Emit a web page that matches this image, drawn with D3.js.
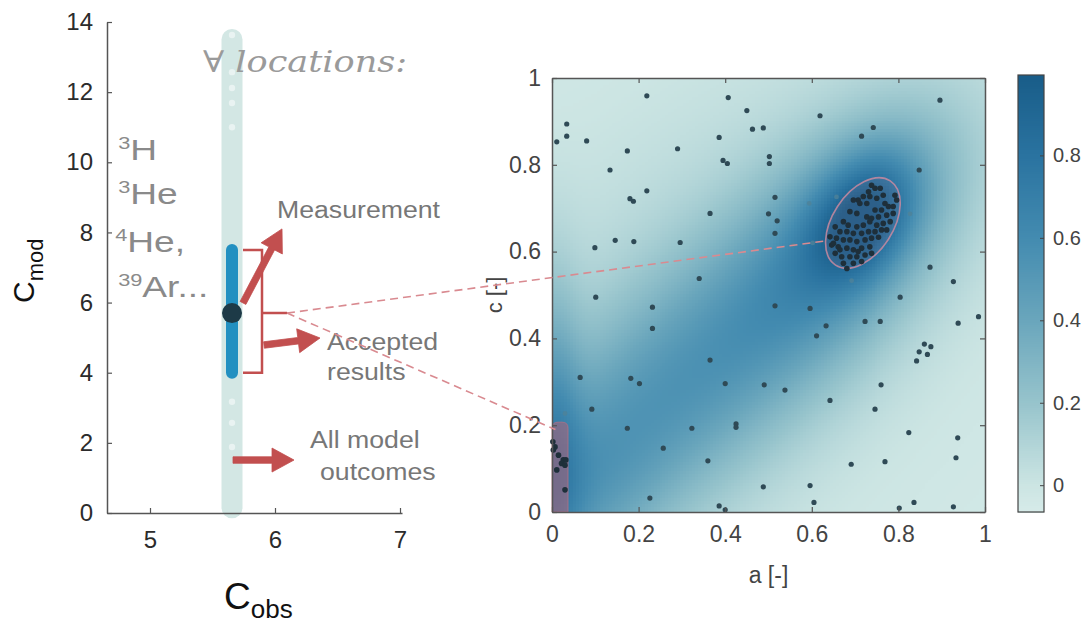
<!DOCTYPE html>
<html>
<head>
<meta charset="utf-8">
<script src="https://cdn.jsdelivr.net/npm/d3@7"></script>
<style>
  body { margin: 0; background: #fff; }
  svg { display: block; }
</style>
</head>
<body>
<svg id="chart" width="1087" height="627"></svg>
<script>
// ---------- left panel data ----------
const cmodTicks = [0, 2, 4, 6, 8, 10, 12, 14];
const cobsTicks = [5, 6, 7];
const measuredCobs = 5.656;
const measuredCmod = 5.7;
const modelRange = [0.15, 13.5];        // spread of all model outcomes
const acceptedRange = [4.0, 7.5];       // outcomes accepted around the measurement
const outcomeHighlights = [13.63, 12.57, 12.12, 11.69, 11.0, 3.17, 2.57, 1.88];
const isotopeSup = ["3", "3", "4", "39"];
const isotopeName = ["H", "He", "He,", "Ar..."];
const isotopeCmod = [10.07, 8.81, 7.44, 6.16];

// ---------- right panel data ----------
const abTicks = [0, 0.2, 0.4, 0.6, 0.8, 1];
const colorTicks = [0, 0.2, 0.4, 0.6, 0.8];
const colorDomain = [-0.065, 0.995];
const cmapStops = [-0.065, 0, 0.2, 0.4, 0.6, 0.8, 1.0];
const cmapColors = ["#d6ebe9", "#cce5e3", "#97c4cc", "#6aa6bc", "#438bb0", "#2a73a0", "#185c88"];

// density field described by a few elongated kernels
const blobA     = [0.72, 0.68, 0.25, 0.00, 0.00, 0.35];
const blobC     = [0.68, 0.64, 0.25, 0.20, 0.00, 0.45];
const blobMajor = [0.11, 0.23, 0.45, 0.25, 0.15, 0.60];
const blobMinor = [0.075, 0.13, 0.16, 0.045, 0.12, 0.35];
const blobAngle = [60, 52, 42, 90, 45, 45];
const blobPeak  = [0.52, 0.37, 0.45, 0.32, 0.15, 0.12];
const densityBase = -0.04;

// sampled parameter sets (a, c)
const samples = [
  [0.034,0.894],[0.034,0.866],[0.011,0.853],[0.080,0.855],[0.219,0.959],[0.174,0.832],[0.134,0.788],
  [0.180,0.722],[0.188,0.716],[0.219,0.740],[0.290,0.837],[0.407,0.955],[0.450,0.925],[0.463,0.882],
  [0.488,0.885],[0.386,0.863],[0.395,0.810],[0.405,0.803],[0.365,0.688],[0.500,0.687],[0.502,0.819],
  [0.502,0.803],[0.099,0.609],[0.146,0.626],[0.189,0.623],[0.296,0.621],[0.340,0.538],[0.101,0.495],
  [0.619,0.913],[0.742,0.886],[0.715,0.866],[0.896,0.949],[0.848,0.788],[0.515,0.725],[0.520,0.671],
  [0.515,0.642],[0.873,0.564],[0.927,0.531],[0.804,0.495],
  [0.232,0.472],[0.232,0.423],[0.365,0.350],[0.065,0.310],[0.182,0.308],[0.202,0.296],[0.400,0.296],
  [0.490,0.293],[0.092,0.237],[0.174,0.193],[0.323,0.193],[0.425,0.203],[0.425,0.195],[0.257,0.147],
  [0.360,0.118],[0.488,0.058],[0.226,0.032],[0.386,0.014],[0.400,0.005],
  [0.515,0.475],[0.596,0.469],[0.633,0.429],[0.611,0.406],[0.723,0.439],[0.758,0.439],[0.938,0.435],
  [0.985,0.450],[0.860,0.387],[0.875,0.381],[0.848,0.369],[0.867,0.363],[0.842,0.348],[0.538,0.281],
  [0.642,0.257],[0.760,0.293],[0.746,0.237],[0.824,0.183],[0.937,0.171],[0.691,0.110],[0.769,0.116],
  [0.933,0.125],[0.596,0.061],[0.605,0.022],[0.836,0.022],[0.927,0.012],[0.802,0.009]
];
const faintSamples = [
  [0.594,0.711],[0.657,0.726],[0.827,0.687],[0.557,0.615],[0.602,0.620],[0.692,0.533],[0.030,0.227]
];
const acceptedMain = [
  [0.738,0.753],[0.746,0.746],[0.731,0.738],[0.758,0.746],[0.719,0.727],[0.734,0.727],[0.707,0.719],
  [0.696,0.719],[0.792,0.730],[0.796,0.719],[0.765,0.730],[0.750,0.723],[0.727,0.711],[0.711,0.711],
  [0.769,0.711],[0.777,0.704],[0.788,0.704],[0.761,0.696],[0.746,0.696],[0.688,0.692],[0.704,0.688],
  [0.727,0.680],[0.738,0.677],[0.754,0.680],[0.773,0.684],[0.788,0.688],[0.673,0.669],[0.684,0.661],
  [0.704,0.657],[0.719,0.661],[0.734,0.669],[0.750,0.661],[0.765,0.665],[0.781,0.669],[0.654,0.657],
  [0.665,0.646],[0.681,0.646],[0.696,0.642],[0.715,0.642],[0.731,0.646],[0.746,0.646],[0.761,0.650],
  [0.642,0.634],[0.657,0.631],[0.673,0.627],[0.688,0.627],[0.704,0.623],[0.723,0.627],[0.738,0.631],
  [0.754,0.633],[0.646,0.615],[0.661,0.611],[0.681,0.608],[0.696,0.604],[0.715,0.608],[0.734,0.611],
  [0.654,0.596],[0.669,0.588],[0.688,0.588],[0.704,0.588],[0.723,0.592],[0.738,0.596],[0.673,0.573],
  [0.696,0.573],[0.715,0.577],[0.681,0.561],[0.650,0.619],[0.773,0.650],[0.665,0.604],[0.707,0.600]
];
const acceptedCorner = [
  [0.002,0.162],[0.007,0.150],[0.003,0.143],[0.015,0.131],[0.026,0.120],[0.032,0.120],
  [0.022,0.112],[0.030,0.108],[0.011,0.097],[0.030,0.051]
];
const mainRegion = { a: 0.718, c: 0.666, major: 0.116, minor: 0.07, angle: 57 };
const cornerRegion = { a0: 0, a1: 0.037, c0: 0, c1: 0.207 };

// ---------- setup ----------
const svg = d3.select("#chart");
const RED = "#c24f4f";
const SANS = "'Liberation Sans', Arial, sans-serif";

// left panel scales
const xL = d3.scaleLinear().domain([4.656, 7.016]).range([107, 402]);
const yL = d3.scaleLinear().domain([0, 14]).range([513, 22]);
// right panel scales
const xR = d3.scaleLinear().domain([0, 1]).range([552, 985]);
const yR = d3.scaleLinear().domain([0, 1]).range([512, 78]);
const yCb = d3.scaleLinear().domain(colorDomain).range([512, 75]);
const cbX0 = 1018, cbX1 = 1044;

const color = d3.scaleLinear().domain(cmapStops).range(cmapColors)
  .interpolate(d3.interpolateRgb).clamp(true);

function styleAxis(g, fs, col) {
  g.select(".domain").attr("stroke", "#555").attr("stroke-width", 1.5);
  g.selectAll(".tick line").attr("stroke", "#555").attr("stroke-width", 1.2);
  g.selectAll(".tick text").attr("font-family", SANS).attr("font-size", fs).attr("fill", col);
}

// ---------- left panel ----------
const left = svg.append("g");

// all model outcomes: light column
left.append("line")
  .attr("x1", xL(measuredCobs)).attr("x2", xL(measuredCobs))
  .attr("y1", yL(modelRange[0])).attr("y2", yL(modelRange[1]))
  .attr("stroke", "#d3e7e4").attr("stroke-width", 21).attr("stroke-linecap", "round");
left.selectAll("circle.hl").data(outcomeHighlights).join("circle")
  .attr("cx", xL(measuredCobs)).attr("cy", d => yL(d)).attr("r", 3.2)
  .attr("fill", "#fff").attr("opacity", 0.5);

const axL = left.append("g").attr("transform", `translate(${xL.range()[0]},0)`)
  .call(d3.axisLeft(yL).tickValues(cmodTicks).tickSizeInner(-5).tickSizeOuter(0).tickPadding(14));
styleAxis(axL, 24, "#2b2b2b");
const axB = left.append("g").attr("transform", `translate(0,${yL(0)})`)
  .call(d3.axisBottom(xL).tickValues(cobsTicks).tickFormat(d3.format("d")).tickSizeInner(-5).tickSizeOuter(0).tickPadding(18));
styleAxis(axB, 24, "#2b2b2b");

// axis titles
const tMod = left.append("text")
  .attr("transform", `translate(34,303) rotate(-90)`)
  .attr("font-family", SANS).attr("fill", "#111");
tMod.append("tspan").attr("font-size", 30).text("C");
tMod.append("tspan").attr("font-size", 22).attr("dy", 9).text("mod");

const tObs = left.append("text").attr("x", 224).attr("y", 609)
  .attr("font-family", SANS).attr("fill", "#111");
tObs.append("tspan").attr("font-size", 37).text("C");
tObs.append("tspan").attr("font-size", 26).attr("dy", 9).text("obs");

// isotope list
isotopeName.forEach((nm, i) => {
  const t = left.append("text")
    .attr("transform", `translate(${xL(4.745) - (i === 2 ? 3 : 0)},${yL(isotopeCmod[i])}) scale(1.28,1)`)
    .attr("font-family", SANS).attr("fill", "#8a8a8a");
  t.append("tspan").attr("font-size", 17).attr("dy", -11).text(isotopeSup[i]);
  t.append("tspan").attr("font-size", 29).attr("dy", 11).text(nm);
});

left.append("text")
  .attr("transform", `translate(${xL(5.424)},${yL(12.575)}) scale(1.17,1)`)
  .attr("font-family", "'DejaVu Serif', serif").attr("font-style", "italic")
  .attr("font-size", 30).attr("fill", "#9a9a9a").text("\u2200 locations:");

// accepted range and measurement
left.append("line")
  .attr("x1", xL(measuredCobs)).attr("x2", xL(measuredCobs))
  .attr("y1", yL(acceptedRange[0])).attr("y2", yL(acceptedRange[1]))
  .attr("stroke", "#2290c1").attr("stroke-width", 12).attr("stroke-linecap", "round");
left.append("circle").attr("cx", xL(measuredCobs)).attr("cy", yL(measuredCmod)).attr("r", 10)
  .attr("fill", "#1d3a47");

// bracket around the accepted range
const bx0 = xL(5.744), bx1 = xL(5.896), bxm = xL(6.096);
left.append("path")
  .attr("d", `M${bx0},${yL(acceptedRange[1])}H${bx1}V${yL(acceptedRange[0])}H${bx0}M${bx1},${yL(measuredCmod)}H${bxm}`)
  .attr("fill", "none").attr("stroke", RED).attr("stroke-width", 2.5);

// thick annotation arrows
function arrow(p0, p1, sw, hl, hw) {
  const dx = p1[0] - p0[0], dy = p1[1] - p0[1];
  const L = Math.hypot(dx, dy), ux = dx / L, uy = dy / L, nx = -uy, ny = ux;
  const bx = p1[0] - ux * hl, by = p1[1] - uy * hl;
  const pts = [
    [p0[0] + nx * sw / 2, p0[1] + ny * sw / 2],
    [bx + nx * sw / 2, by + ny * sw / 2],
    [bx + nx * hw / 2, by + ny * hw / 2],
    p1,
    [bx - nx * hw / 2, by - ny * hw / 2],
    [bx - nx * sw / 2, by - ny * sw / 2],
    [p0[0] - nx * sw / 2, p0[1] - ny * sw / 2]
  ];
  return "M" + pts.map(p => p.join(",")).join("L") + "Z";
}
const arrows = [
  { from: [5.744, 5.99], to: [6.056, 8.10] },
  { from: [5.912, 4.79], to: [6.36, 4.99] },
  { from: [5.664, 1.51], to: [6.152, 1.51] }
];
arrows.forEach(a => {
  left.append("path")
    .attr("d", arrow([xL(a.from[0]), yL(a.from[1])], [xL(a.to[0]), yL(a.to[1])], 6.5, 22, 24))
    .attr("fill", RED).attr("stroke", RED).attr("stroke-width", 0.8).attr("stroke-linejoin", "round");
});

// annotation labels
function label(txt, cobs, cmod) {
  left.append("text")
    .attr("transform", `translate(${xL(cobs)},${yL(cmod)}) scale(1.16,1)`)
    .attr("font-family", SANS).attr("font-size", 23).attr("fill", "#777").text(txt);
}
label("Measurement", 6.016, 8.41);
label("Accepted", 6.416, 4.65);
label("results", 6.416, 3.79);
label("All model", 6.28, 1.85);
label("outcomes", 6.36, 0.94);

// ---------- right panel: density map ----------
const right = svg.append("g");
const rad = d3.range(blobA.length).map(i => blobAngle[i] * Math.PI / 180);
function density(a, c) {
  let v = densityBase;
  for (let i = 0; i < blobA.length; i++) {
    const dx = a - blobA[i], dy = c - blobC[i];
    const cs = Math.cos(rad[i]), sn = Math.sin(rad[i]);
    const u = dx * cs + dy * sn, w = -dx * sn + dy * cs;
    v += blobPeak[i] * Math.exp(-0.5 * (u * u / (blobMajor[i] ** 2) + w * w / (blobMinor[i] ** 2)));
  }
  return v;
}
const N = 145;
const cells = [];
for (let i = 0; i < N; i++) for (let j = 0; j < N; j++) {
  cells.push({ a0: i / N, a1: (i + 1) / N, c0: j / N, c1: (j + 1) / N, v: density((i + 0.5) / N, (j + 0.5) / N) });
}
right.append("g").attr("shape-rendering", "crispEdges")
  .selectAll("rect").data(cells).join("rect")
  .attr("x", d => xR(d.a0)).attr("y", d => yR(d.c1))
  .attr("width", d => xR(d.a1) - xR(d.a0) + 0.6)
  .attr("height", d => yR(d.c0) - yR(d.c1) + 0.6)
  .attr("fill", d => color(d.v));

// accepted regions
const rxPx = xR(mainRegion.major) - xR(0), ryPx = xR(mainRegion.minor) - xR(0);
right.append("ellipse")
  .attr("transform", `translate(${xR(mainRegion.a)},${yR(mainRegion.c)}) rotate(${-mainRegion.angle})`)
  .attr("rx", rxPx).attr("ry", ryPx)
  .attr("fill", "rgba(190,120,150,0.12)").attr("stroke", "#c98aa0")
  .attr("stroke-width", 1.6).attr("stroke-opacity", 0.85);
{
  const x0 = xR(cornerRegion.a0), x1 = xR(cornerRegion.a1), yb = yR(cornerRegion.c0), yt = yR(cornerRegion.c1);
  const r = 6;
  right.append("path")
    .attr("d", `M${x0},${yb}V${yt + r}Q${x0},${yt} ${x0 + r},${yt}H${x1 - r}Q${x1},${yt} ${x1},${yt + r}V${yb}Z`)
    .attr("fill", "rgba(180,100,120,0.55)").attr("stroke", "rgba(190,110,130,0.7)").attr("stroke-width", 1);
}

// dashed connectors from the measurement bracket to the accepted regions
const connStart = [xL(6.096), yL(measuredCmod)];
const connEnds = [[0.635, 0.625], [0.008, 0.19]];
svg.append("g").selectAll("line").data(connEnds).join("line")
  .attr("x1", connStart[0]).attr("y1", connStart[1])
  .attr("x2", d => xR(d[0])).attr("y2", d => yR(d[1]))
  .attr("stroke", "#d98a90").attr("stroke-width", 1.6).attr("stroke-dasharray", "8,5");

// sample points
right.append("g").selectAll("circle").data(faintSamples).join("circle")
  .attr("cx", d => xR(d[0])).attr("cy", d => yR(d[1])).attr("r", 2.4)
  .attr("fill", "#4f8298").attr("opacity", 0.8);
right.append("g").selectAll("circle").data(samples).join("circle")
  .attr("cx", d => xR(d[0])).attr("cy", d => yR(d[1])).attr("r", 2.6)
  .attr("fill", "#2f4a56");
right.append("g").selectAll("circle").data(acceptedMain.concat(acceptedCorner)).join("circle")
  .attr("cx", d => xR(d[0])).attr("cy", d => yR(d[1])).attr("r", 2.8)
  .attr("fill", "#1e2f3a");

// box axes with inward ticks
const axRB = right.append("g").attr("transform", `translate(0,${yR(0)})`)
  .call(d3.axisBottom(xR).tickValues(abTicks).tickFormat(d3.format("~g")).tickSizeInner(-5).tickSizeOuter(0).tickPadding(14));
styleAxis(axRB, 23, "#444");
const axRL = right.append("g").attr("transform", `translate(${xR(0)},0)`)
  .call(d3.axisLeft(yR).tickValues(abTicks).tickFormat(d3.format("~g")).tickSizeInner(-5).tickSizeOuter(0).tickPadding(11));
styleAxis(axRL, 23, "#444");
const axRT = right.append("g").attr("transform", `translate(0,${yR(1)})`)
  .call(d3.axisTop(xR).tickValues(abTicks).tickFormat("").tickSizeInner(-5).tickSizeOuter(0));
styleAxis(axRT, 23, "#444");
const axRR = right.append("g").attr("transform", `translate(${xR(1)},0)`)
  .call(d3.axisRight(yR).tickValues(abTicks).tickFormat("").tickSizeInner(-5).tickSizeOuter(0));
styleAxis(axRR, 23, "#444");

right.append("text").attr("x", (xR(0) + xR(1)) / 2).attr("y", 583).attr("text-anchor", "middle")
  .attr("font-family", SANS).attr("font-size", 23).attr("fill", "#444").text("a [-]");
right.append("text").attr("transform", `translate(502,${yR(0.5)}) rotate(-90)`).attr("text-anchor", "middle")
  .attr("font-family", SANS).attr("font-size", 22).attr("fill", "#444").text("c [-]");

// ---------- colour bar ----------
const cb = svg.append("g");
const nCb = 200;
const cbSteps = d3.range(nCb).map(k => colorDomain[0] + (colorDomain[1] - colorDomain[0]) * k / nCb);
const cbStep = (colorDomain[1] - colorDomain[0]) / nCb;
cb.append("g").attr("shape-rendering", "crispEdges").selectAll("rect").data(cbSteps).join("rect")
  .attr("x", cbX0).attr("width", cbX1 - cbX0)
  .attr("y", d => yCb(d + cbStep)).attr("height", d => yCb(d) - yCb(d + cbStep) + 0.6)
  .attr("fill", d => color(d + cbStep / 2));
cb.append("rect").attr("x", cbX0).attr("y", yCb(colorDomain[1])).attr("width", cbX1 - cbX0)
  .attr("height", yCb(colorDomain[0]) - yCb(colorDomain[1]))
  .attr("fill", "none").attr("stroke", "#444").attr("stroke-width", 1.2);
const axCb = cb.append("g").attr("transform", `translate(${cbX1},0)`)
  .call(d3.axisRight(yCb).tickValues(colorTicks).tickFormat(d3.format("~g")).tickSizeInner(-4).tickSizeOuter(0).tickPadding(9));
axCb.select(".domain").remove();
axCb.selectAll(".tick line").attr("stroke", "#444");
axCb.selectAll(".tick text").attr("font-family", SANS).attr("font-size", 20).attr("fill", "#444");
</script>
</body>
</html>
